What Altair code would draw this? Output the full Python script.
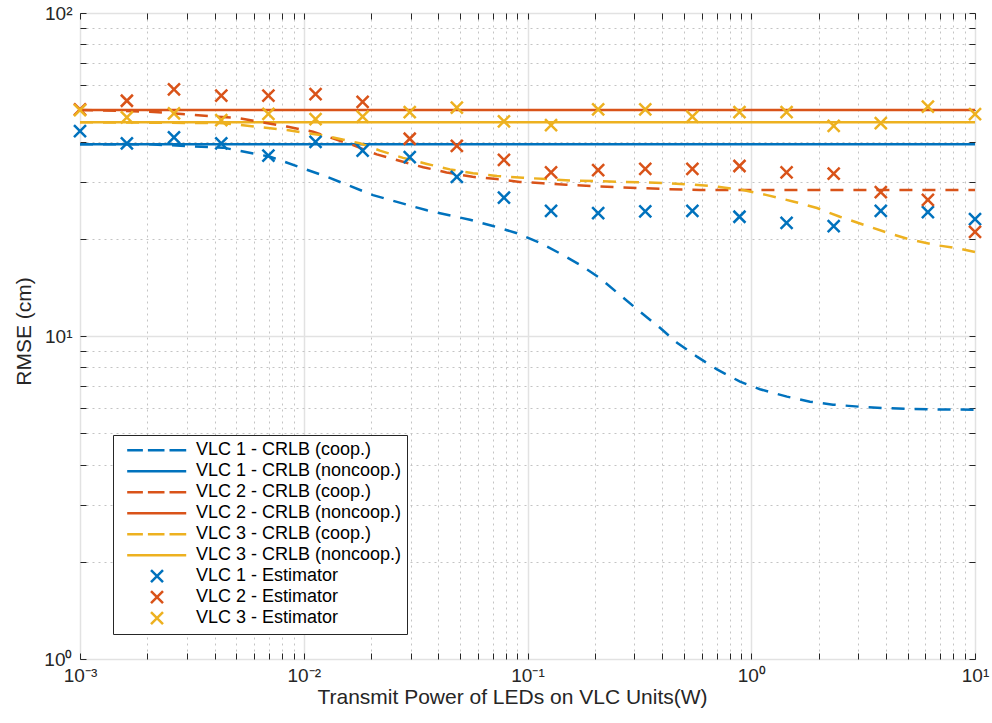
import altair as alt
import pandas as pd

# ---------------------------------------------------------------- data
series = [
    "VLC 1 - CRLB (coop.)",
    "VLC 1 - CRLB (noncoop.)",
    "VLC 2 - CRLB (coop.)",
    "VLC 2 - CRLB (noncoop.)",
    "VLC 3 - CRLB (coop.)",
    "VLC 3 - CRLB (noncoop.)",
    "VLC 1 - Estimator",
    "VLC 2 - Estimator",
    "VLC 3 - Estimator",
]
series_colors = ["#0072BD", "#0072BD", "#D95319", "#D95319", "#EDB120",
                 "#EDB120", "#0072BD", "#D95319", "#EDB120"]

# cooperative CRLB curves (power in W, RMSE in cm)
vlc1_coop_p = [0.001, 0.00205, 0.00436, 0.00707, 0.0127, 0.0204, 0.0355, 0.0553,
               0.0701, 0.0898, 0.114, 0.140, 0.172, 0.211, 0.259, 0.318, 0.391,
               0.466, 0.572, 0.703, 0.891, 1.094, 1.445, 1.83, 2.32, 3.06, 3.88,
               6.30, 10.0]
vlc1_coop_rmse = [39.2, 39.2, 38.3, 35.9, 31.1, 27.3, 24.5, 22.9, 21.9, 20.8,
                  19.4, 18.0, 16.6, 15.1, 13.4, 11.9, 10.6, 9.53, 8.63, 7.88,
                  7.22, 6.84, 6.49, 6.26, 6.13, 6.04, 5.98, 5.93, 5.91]

vlc2_coop_p = [0.001, 0.00205, 0.0052, 0.0084, 0.011, 0.0166, 0.0212, 0.027,
               0.0342, 0.0435, 0.0568, 0.0728, 0.0923, 0.117, 0.149, 0.196,
               0.251, 0.318, 0.418, 0.59, 10.0]
vlc2_coop_rmse = [50.1, 49.5, 47.2, 44.5, 42.9, 39.0, 36.5, 34.8, 33.3, 32.1,
                  31.1, 30.6, 30.0, 29.7, 29.4, 29.1, 28.9, 28.7, 28.5, 28.3,
                  28.3]

vlc3_coop_p = [0.001, 0.00436, 0.00842, 0.0127, 0.0178, 0.0219, 0.0278, 0.0355,
               0.045, 0.0571, 0.0731, 0.0955, 0.122, 0.155, 0.204, 0.259, 0.328,
               0.433, 0.549, 0.710, 0.918, 1.176, 1.537, 1.967, 2.49, 3.06,
               4.04, 5.12, 6.76, 8.32, 10.0]
vlc3_coop_rmse = [45.9, 45.6, 43.4, 41.6, 39.5, 37.5, 35.6, 34.1, 32.8, 31.9,
                  31.3, 30.9, 30.6, 30.3, 30.2, 30.0, 29.9, 29.7, 29.4, 29.0,
                  28.3, 27.3, 26.1, 24.9, 23.4, 22.3, 20.9, 19.9, 19.1, 18.7,
                  18.2]

# non-cooperative CRLB (flat over the whole power range)
noncoop_p = [0.001, 10.0]
noncoop_rmse = [39.2, 50.1, 45.9]

# estimator RMSE at 20 log-spaced transmit powers
est_p = [0.001, 0.00162, 0.00263, 0.00428, 0.00695, 0.01129, 0.01833, 0.02976,
         0.04833, 0.07848, 0.12743, 0.20691, 0.33598, 0.54556, 0.88587,
         1.43845, 2.33572, 3.79269, 6.15848, 10.0]
est_vlc1 = [43.1, 39.5, 41.2, 39.5, 36.2, 39.9, 37.5, 35.8, 31.1, 26.8, 24.4,
            24.0, 24.3, 24.4, 23.4, 22.4, 21.9, 24.4, 24.2, 23.0]
est_vlc2 = [50.3, 53.5, 58.0, 55.5, 55.5, 56.1, 53.1, 40.8, 38.8, 35.1, 32.1,
            32.6, 32.9, 32.9, 33.6, 32.1, 31.8, 27.9, 26.4, 21.0]
est_vlc3 = [50.0, 47.5, 48.9, 46.6, 48.7, 46.9, 47.8, 49.3, 50.9, 46.2, 45.0,
            50.3, 50.3, 47.8, 49.3, 49.3, 44.7, 45.6, 51.3, 48.6]

# axis ticks
x_major = [0.001, 0.01, 0.1, 1.0, 10.0]
x_major_labels = ["10⁻³", "10⁻²", "10⁻¹", "10⁰", "10¹"]
y_major = [1.0, 10.0, 100.0]
y_major_labels = ["10⁰", "10¹", "10²"]
x_ticks = [m * 10.0 ** e for e in range(-3, 1) for m in range(1, 10)] + [10.0]
y_ticks = [m * 10.0 ** e for e in range(0, 2) for m in range(1, 10)] + [100.0]

# ---------------------------------------------------------------- tables
coop = pd.concat([
    pd.DataFrame({"p": vlc1_coop_p, "rmse": vlc1_coop_rmse, "series": series[0]}),
    pd.DataFrame({"p": vlc2_coop_p, "rmse": vlc2_coop_rmse, "series": series[2]}),
    pd.DataFrame({"p": vlc3_coop_p, "rmse": vlc3_coop_rmse, "series": series[4]}),
])
noncoop = pd.concat([
    pd.DataFrame({"p": noncoop_p, "rmse": [v, v], "series": s})
    for v, s in zip(noncoop_rmse, [series[1], series[3], series[5]])
])
est = pd.concat([
    pd.DataFrame({"p": est_p, "rmse": vals, "series": s})
    for vals, s in zip([est_vlc1, est_vlc2, est_vlc3], series[6:])
])

# ---------------------------------------------------------------- styling
INK = "#262626"
FONT = "Liberation Sans"

# legend glyphs (drawn as stroked paths)
DASHED = "M-0.795,0H-0.376M-0.243,0H0.2M0.333,0H0.779"
SOLID = "M-0.795,0H0.779"
CROSS = "M-0.16,-0.16L0.16,0.16M-0.16,0.16L0.16,-0.16"
glyphs = [DASHED, SOLID, DASHED, SOLID, DASHED, SOLID, CROSS, CROSS, CROSS]
GLYPH_SIZE = 5625

x_scale = alt.Scale(type="log", domain=[0.001, 10], nice=False)
y_scale = alt.Scale(type="log", domain=[1, 100], nice=False)
color_scale = alt.Scale(domain=series, range=series_colors)
shape_scale = alt.Scale(domain=series, range=glyphs)

legend = alt.Legend(title=None, orient="none", legendX=33, legendY=422)

MAJOR = "abs(log(datum.value)/LN10 - round(log(datum.value)/LN10)) < 0.001"


def label_expr(vals, labels):
    parts = [f"abs(datum.value - {v}) < {v * 1e-6} ? '{t}'" for v, t in zip(vals, labels)]
    return " : ".join(parts) + " : ''"


grid_color = {"condition": {"test": MAJOR, "value": "#e2e2e2"}, "value": "#c4c4c4"}
grid_dash = {"condition": {"test": MAJOR, "value": []}, "value": [2, 4]}
grid_width = {"condition": {"test": MAJOR, "value": 1.5}, "value": 1}

x_label_axis = alt.Axis(
    orient="bottom", values=x_ticks, labelExpr=label_expr(x_major, x_major_labels),
    ticks=False, domain=False, grid=True, gridColor=grid_color, gridDash=grid_dash,
    gridWidth=grid_width,
    labelFlush=False, labelOverlap=False, labelPadding=7,
    title="Transmit Power of LEDs on VLC Units(W)", titlePadding=1, titleX=432,
)
y_label_axis = alt.Axis(
    orient="left", values=y_ticks, labelExpr=label_expr(y_major, y_major_labels),
    ticks=False, domain=False, grid=True, gridColor=grid_color, gridDash=grid_dash,
    gridWidth=grid_width,
    labelFlush=False, labelOverlap=False, labelPadding=8,
    title="RMSE (cm)", titlePadding=9, titleY=318,
)


def tick_axis(orient, vals):
    # short ticks pointing into the plot from the frame edge
    return alt.Axis(orient=orient, values=vals, labels=False, domain=False, grid=False,
                    ticks=True, tickSize=6, offset=-6, title=None)


noncoop_layer = alt.Chart(noncoop).mark_line(strokeWidth=2.5).encode(
    x=alt.X("p:Q", scale=x_scale, axis=x_label_axis),
    y=alt.Y("rmse:Q", scale=y_scale, axis=y_label_axis),
    color=alt.Color("series:N", scale=color_scale, legend=legend),
    detail="series:N",
)

coop_layer = alt.Chart(coop).mark_line(strokeWidth=2.5, strokeDash=[13, 10]).encode(
    x=alt.X("p:Q", scale=x_scale, axis=tick_axis("bottom", x_ticks)),
    y=alt.Y("rmse:Q", scale=y_scale, axis=tick_axis("left", y_ticks)),
    color=alt.Color("series:N", scale=color_scale, legend=legend),
    detail="series:N",
)

est_layer = alt.Chart(est).mark_point(filled=False, strokeWidth=2.5, size=GLYPH_SIZE, opacity=1).encode(
    x=alt.X("p:Q", scale=x_scale, axis=tick_axis("top", x_ticks)),
    y=alt.Y("rmse:Q", scale=y_scale, axis=tick_axis("right", y_ticks)),
    color=alt.Color("series:N", scale=color_scale, legend=legend),
    shape=alt.Shape("series:N", scale=shape_scale, legend=legend),
)

chart = (
    alt.layer(noncoop_layer, coop_layer, est_layer)
    .resolve_axis(x="independent", y="independent")
    .properties(
        width=895, height=646,
        autosize=alt.AutoSizeParams(type="none"),
        padding={"left": 80, "top": 13, "right": 17, "bottom": 64},
        background="white",
    )
    .configure_view(stroke=INK, strokeWidth=1)
    .configure_axis(
        labelFont=FONT, titleFont=FONT, labelFontSize=19, titleFontSize=21,
        titleFontWeight="normal", labelColor=INK, titleColor=INK,
        tickColor=INK, tickWidth=1,
    )
    .configure_legend(
        labelFont=FONT, labelFontSize=18, labelColor="#000000",
        strokeColor=INK, fillColor="white", padding=5, cornerRadius=0,
        symbolSize=GLYPH_SIZE, symbolStrokeWidth=2.5, clipHeight=20.4, rowPadding=0,
        labelOffset=0, labelLimit=400,
    )
)

chart.save("out.html", embed_options={"renderer": "svg", "actions": False})
